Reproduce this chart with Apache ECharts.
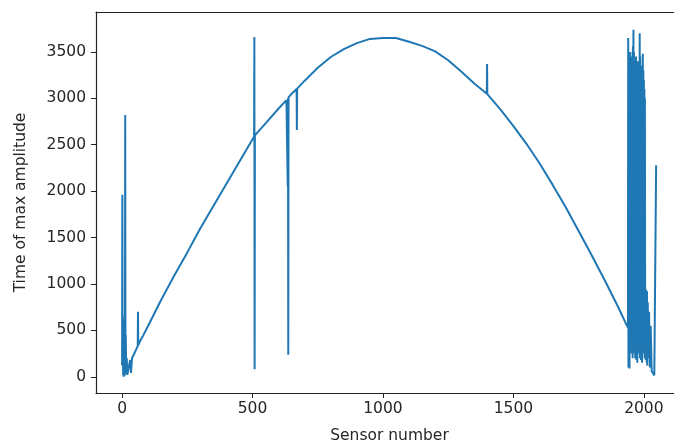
<!DOCTYPE html>
<html>
<head>
<meta charset="utf-8">
<script src="https://cdn.jsdelivr.net/npm/echarts@6/dist/echarts.min.js"></script>
<style>
    html, body { margin: 0; padding: 0; background: #fff; overflow: hidden; }
    #chart { width: 674px; height: 445px; }
</style>
</head>
<body>
<div id="chart"></div>
<script>
// sensor index and time of max amplitude
const sensors = [
    0, 1, 2, 3, 4, 5, 6, 7, 8, 9, 10, 11, 12, 13, 14, 16, 18, 20, 24, 28, 31, 34, 38, 45, 55, 60, 61, 62, 70, 80,
    100, 150, 200, 250, 300, 350, 400, 450, 500, 506, 507, 508, 509, 550, 600, 630, 634, 635, 636, 637, 638, 650,
    669, 670, 671, 700, 750, 800, 850, 900, 950, 1000, 1050, 1100, 1150, 1200, 1250, 1300, 1350, 1398, 1399, 1400,
    1450, 1500, 1550, 1600, 1650, 1700, 1750, 1800, 1850, 1900, 1930, 1939,
    1940, 1941, 1942, 1943, 1944, 1945, 1946, 1947, 1948, 1949, 1950, 1951, 1952, 1953, 1954, 1955, 1956, 1957,
    1958, 1959, 1960, 1961, 1962, 1963, 1964, 1965, 1966, 1967, 1968, 1969, 1970, 1971, 1972, 1973, 1974, 1975,
    1976, 1977, 1978, 1979, 1980, 1981, 1982, 1983, 1984, 1985, 1986, 1987, 1988, 1989, 1990, 1991, 1992, 1993,
    1994, 1995, 1996, 1997, 1998, 1999, 2000, 2001, 2002, 2003, 2004, 2005, 2006, 2007, 2008, 2009, 2010, 2011,
    2012, 2013, 2015, 2017, 2020, 2023, 2026, 2030, 2035, 2040, 2047
];
const maxTimes = [
    120, 1960, 250, 650, 20, 520, 0, 380, 60, 600, 10, 300, 2820, 30, 450, 40, 200, 20, 80, 140, 180, 40, 200, 240, 300, 330, 700, 340, 390, 440,
    550, 830, 1090, 1340, 1600, 1840, 2080, 2320, 2560, 2590, 3660, 80, 2600, 2730, 2890, 2980, 2990, 2050, 3000, 237, 3010, 3050,
    3100, 2660, 3105, 3190, 3330, 3445, 3530, 3595, 3640, 3650, 3650, 3610, 3565, 3505, 3410, 3290, 3160, 3050, 3370, 3045,
    2880, 2700, 2510, 2300, 2070, 1830, 1570, 1310, 1040, 760, 580, 530,
    3650, 100, 3300, 450, 3450, 90, 3350, 400, 3500, 300, 3400, 350, 3300, 250, 3450, 380, 3350, 200,
    3560, 320, 3740, 280, 3500, 300, 3400, 250, 3350, 200, 3300, 260, 3450, 180, 3400, 300, 3350, 150,
    3300, 320, 3400, 280, 3350, 300, 3300, 250, 3700, 200, 3450, 260, 3350, 180, 3300, 300, 3250, 150,
    3350, 320, 3480, 280, 3300, 300, 3200, 250, 3100, 200, 3000, 260, 900, 180, 940, 300, 850, 150,
    920, 120, 800, 200, 700, 100, 550, 60, 40, 15, 2280
];
const xTicks = [0, 500, 1000, 1500, 2000];
const yTicks = [0, 500, 1000, 1500, 2000, 2500, 3000, 3500];

const seriesData = sensors.map((s, i) => [s, maxTimes[i]]);

const textStyle = {
    color: '#262626',
    fontFamily: 'DejaVu Sans',
    fontSize: 15.5,
};

const frameLine = { color: '#222', width: 1.2 };

const option = {
    animation: false,
    grid: {
        left: 96,
        top: 12,
        width: 587,
        height: 381,
        outerBoundsMode: 'none',
    },
    xAxis: [
        {
            type: 'value',
            min: -100,
            max: 2150,
            name: 'Sensor number',
            nameLocation: 'middle',
            nameGap: 35,
            nameTextStyle: textStyle,
            axisLine: { show: true, onZero: false, lineStyle: frameLine },
            axisTick: {
                show: true,
                length: 5,
                customValues: xTicks,
                lineStyle: { color: '#222' },
            },
            axisLabel: {
                customValues: xTicks,
                margin: 8,
                formatter: (v) => String(v),
                ...textStyle,
            },
            splitLine: { show: false },
        },
        {
            // top frame line
            type: 'value',
            position: 'top',
            min: -100,
            max: 2150,
            axisLine: { show: true, onZero: false, lineStyle: frameLine },
            axisTick: { show: false },
            axisLabel: { show: false },
            splitLine: { show: false },
        },
    ],
    yAxis: {
        type: 'value',
        min: -175,
        max: 3930,
        name: 'Time of max amplitude',
        nameLocation: 'middle',
        nameRotate: 90,
        nameGap: 67,
        nameTextStyle: textStyle,
        axisLine: { show: true, onZero: false, lineStyle: frameLine },
        axisTick: {
            show: true,
            length: 5,
            customValues: yTicks,
            lineStyle: { color: '#222' },
        },
        axisLabel: {
            customValues: yTicks,
            margin: 10,
            formatter: (v) => String(v),
            ...textStyle,
        },
        splitLine: { show: false },
    },
    series: [
        {
            type: 'line',
            data: seriesData,
            showSymbol: false,
            symbol: 'none',
            lineStyle: { color: '#1f77b4', width: 2 },
        },
    ],
};

const myChart = echarts.init(document.getElementById('chart'));
myChart.setOption(option);
</script>
</body>
</html>
